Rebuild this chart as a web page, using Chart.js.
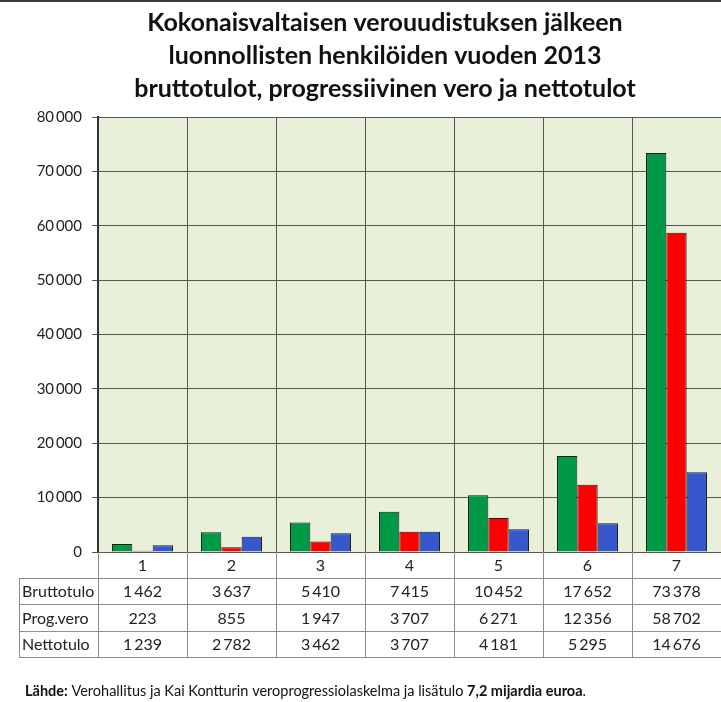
<!DOCTYPE html>
<html>
<head>
<meta charset="utf-8">
<script src="https://cdn.jsdelivr.net/npm/chart.js@4/dist/chart.umd.min.js"></script>
<style>
  html, body { margin: 0; padding: 0; background: #fff; }
  #wrap { width: 721px; height: 702px; }
</style>
</head>
<body>
<div id="wrap"><canvas id="taxChart" width="721" height="702"></canvas></div>
<script>
// Chart data
const categories = ['1', '2', '3', '4', '5', '6', '7'];
const rowLabels = ['Bruttotulo', 'Prog.vero', 'Nettotulo'];
const bruttotulo = [1462, 3637, 5410, 7415, 10452, 17652, 73378];
const progVero = [223, 855, 1947, 3707, 6271, 12356, 58702];
const nettotulo = [1239, 2782, 3462, 3707, 4181, 5295, 14676];
const yMax = 80000;
const yStep = 10000;

const titleLines = [
    'Kokonaisvaltaisen verouudistuksen jälkeen',
    'luonnollisten henkilöiden vuoden 2013',
    'bruttotulot, progressiivinen vero ja nettotulot'
];
const sourceParts = [
    ['Lähde:', true],
    [' Verohallitus ja Kai Kontturin veroprogressiolaskelma ja lisätulo ', false],
    ['7,2 mijardia euroa', true],
    ['.', false]
];

const FONT = 'Lato, "Open Sans", sans-serif';

function fmt(v) {
    return String(v).replace(/\B(?=(\d{3})+(?!\d))/g, '\u2009');
}

// white page + green plot background
const backgroundPlugin = {
    id: 'background',
    beforeDraw(chart) {
        const { ctx, chartArea } = chart;
        ctx.save();
        ctx.fillStyle = '#ffffff';
        ctx.fillRect(0, 0, chart.width, chart.height);
        ctx.fillStyle = '#e8f0da';
        ctx.fillRect(chartArea.left, chartArea.top,
            chartArea.right - chartArea.left, chartArea.bottom - chartArea.top);
        ctx.restore();
    }
};

// title, data table and source line
const decorPlugin = {
    id: 'decor',
    afterDraw(chart) {
        const { ctx, chartArea } = chart;
        const x = chart.scales.x;
        ctx.save();

        // dark strip at top
        ctx.fillStyle = '#3a3a3a';
        ctx.fillRect(0, 0, chart.width, 2);

        // title
        ctx.fillStyle = '#111';
        ctx.font = 'bold 25px ' + FONT;
        ctx.textAlign = 'center';
        ctx.textBaseline = 'middle';
        titleLines.forEach((line, i) => {
            ctx.fillText(line, 385, 23 + i * 33);
        });

        // data table
        const top = chartArea.bottom;
        const rowY = [top, top + 26, top + 52, top + 79, top + 105];
        const labelLeft = 19;
        const colW = (x.right - x.left) / categories.length;

        ctx.strokeStyle = '#8c8c8c';
        ctx.lineWidth = 1;
        ctx.beginPath();
        for (let i = 0; i < categories.length; i++) {
            const cx = Math.round(x.left + i * colW) + 0.5;
            ctx.moveTo(cx, top);
            ctx.lineTo(cx, rowY[4]);
        }
        ctx.moveTo(labelLeft + 0.5, rowY[1]);
        ctx.lineTo(labelLeft + 0.5, rowY[4]);
        for (let r = 1; r <= 4; r++) {
            ctx.moveTo(labelLeft, Math.round(rowY[r]) + 0.5);
            ctx.lineTo(chart.width, Math.round(rowY[r]) + 0.5);
        }
        ctx.stroke();

        ctx.fillStyle = '#222';
        ctx.font = '16px ' + FONT;
        ctx.textBaseline = 'middle';
        const rows = [bruttotulo, progVero, nettotulo];
        categories.forEach((c, i) => {
            const cx = x.getPixelForValue(i);
            ctx.textAlign = 'center';
            ctx.fillText(c, cx, (rowY[0] + rowY[1]) / 2 + 1);
            rows.forEach((vals, r) => {
                ctx.fillText(fmt(vals[i]), cx, (rowY[r + 1] + rowY[r + 2]) / 2 + 1);
            });
        });
        ctx.textAlign = 'left';
        rowLabels.forEach((lab, r) => {
            ctx.fillText(lab, labelLeft + 3, (rowY[r + 1] + rowY[r + 2]) / 2 + 1);
        });

        // source line
        let sx = 25;
        ctx.textAlign = 'left';
        ctx.fillStyle = '#111';
        sourceParts.forEach(([txt, bold]) => {
            ctx.font = (bold ? 'bold ' : '') + '14.5px ' + FONT;
            ctx.fillText(txt, sx, 691);
            sx += ctx.measureText(txt).width;
        });

        ctx.restore();
    }
};

const ctx = document.getElementById('taxChart').getContext('2d');
const taxChart = new Chart(ctx, {
    type: 'bar',
    data: {
        labels: categories,
        datasets: [
            { label: rowLabels[0], data: bruttotulo, backgroundColor: '#009a46' },
            { label: rowLabels[1], data: progVero, backgroundColor: '#ff0000' },
            { label: rowLabels[2], data: nettotulo, backgroundColor: '#3658cc' }
        ].map(ds => Object.assign(ds, {
            borderColor: '#1a1a1a',
            borderWidth: 1,
            categoryPercentage: 0.685,
            barPercentage: 1
        }))
    },
    options: {
        responsive: false,
        animation: false,
        layout: { padding: { top: 117, right: 0, bottom: 150, left: 0 } },
        plugins: {
            legend: { display: false },
            tooltip: { enabled: false },
            title: { display: false }
        },
        scales: {
            x: {
                grid: {
                    // no closing line at the right edge
                    color: c => (c.type === 'tick' ? '#555' : 'rgba(0,0,0,0)'),
                    lineWidth: 1,
                    drawTicks: false,
                    offset: true
                },
                border: { color: '#555', width: 1 },
                ticks: { display: false },
                afterFit(scale) { scale.height = 0; }
            },
            y: {
                min: 0,
                max: yMax,
                ticks: {
                    stepSize: yStep,
                    color: '#222',
                    font: { family: FONT, size: 15 },
                    padding: 10,
                    callback: v => fmt(v)
                },
                grid: { color: '#555', lineWidth: 1, tickLength: 6 },
                border: { color: '#333', width: 2 },
                afterFit(scale) { scale.width = 98; }
            }
        }
    },
    plugins: [backgroundPlugin, decorPlugin]
});
</script>
</body>
</html>
